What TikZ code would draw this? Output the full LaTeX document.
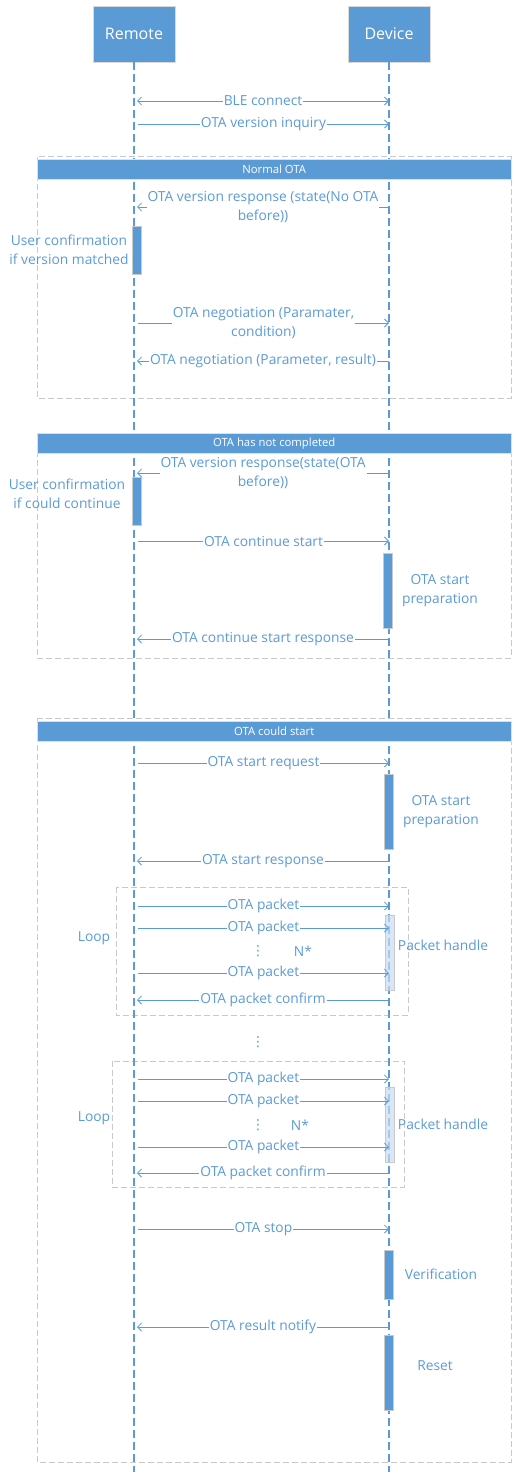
\documentclass[tikz,border=0pt]{standalone}
\usepackage{fontspec}
\setmainfont{Open Sans}
\newfontfamily\dotsfont{DejaVu Sans}
\usetikzlibrary{arrows.meta, positioning, calc}
\definecolor{seqblue}{HTML}{5B9BD5}
\definecolor{framegray}{HTML}{C9C9C9}
\definecolor{barlight}{HTML}{C9DCF1}
\tikzset{actor/.style={rectangle,fill=seqblue,draw=framegray!70,text=white,minimum width=82,minimum height=56,font=\fontsize{16}{18}\selectfont},
    lifeline/.style={draw=seqblue,line width=1.3,dash pattern=on 8 off 4},
    msg/.style={draw=seqblue,line width=0.8,-{Straight Barb[length=4,width=8]}},
    dmsg/.style={msg,{Straight Barb[length=4,width=8]}-{Straight Barb[length=4,width=8]}},
    lbl/.style={fill=white,text=seqblue,inner sep=1,font=\fontsize{13.8}{19}\selectfont,align=center},
    note/.style={text=seqblue,inner sep=0,font=\fontsize{13.8}{19}\selectfont,align=center},
    frame/.style={draw=framegray,line width=1,dash pattern=on 6 off 3},
    header/.style={fill=seqblue,draw=framegray!60,text=white,minimum width=474,minimum height=20,inner sep=0,anchor=north west,font=\fontsize{11.3}{12}\selectfont},
    activebar/.style={fill=seqblue,draw=framegray,minimum width=9,inner sep=0,anchor=north},
    lightbar/.style={fill=barlight,fill opacity=0.7,draw=framegray,minimum width=9,inner sep=0,anchor=north}}

\begin{document}
\begin{tikzpicture}[x=1pt,y=-1pt]
    \useasboundingbox (0,0) rectangle (516,1482);

    % combined fragments
    \draw[frame] (37,157) rectangle (511,398);
    \draw[frame] (37,433) rectangle (511,658);
    \draw[frame] (37,718) rectangle (511,1462);
    \draw[frame] (116,887) rectangle (408,1015);
    \draw[frame] (112,1061) rectangle (404,1187);

    % participants and lifelines
    \node[actor] (remote) at (134,34) {Remote};
    \node[actor] (device) at (389,34) {Device};
    \draw[lifeline] (remote.south) -- (remote |- 0,1472);
    \draw[lifeline] (device.south) -- (device |- 0,1472);

    \node[header] (normal) at (37,159) {Normal OTA};
    \node[header] (notdone) at (37,433) {OTA has not completed};
    \node[header] (canstart) at (37,721) {OTA could start};

    % activations
    \foreach \name/\x/\top/\h in {ab1/137/226/48, ab2/137/477/48, db1/387.5/553/75,
        db2/389/774/75, db3/389/1250/49, db4/389/1335/75}
        \node[activebar, minimum height=\h] (\name) at (\x,\top) {};
    \foreach \name/\top in {lb1/915, lb2/1087}
        \node[lightbar, minimum height=75] (\name) at (389.5,\top) {};

    % messages
    \draw[dmsg] ([xshift=3]remote |- 0,101) -- node[lbl]{BLE connect} (device |- 0,101);
    \foreach \y/\txt in {124/OTA version inquiry, 323/{OTA negotiation (Paramater,\\condition)},
        541/OTA continue start, 763/OTA start request, 906/OTA packet, 928/OTA packet,
        973/OTA packet, 1079/OTA packet, 1101/OTA packet, 1147/OTA packet, 1229/OTA stop}
        \draw[msg] ([xshift=4]remote |- 0,\y) -- node[lbl]{\txt} (device |- 0,\y);
    \foreach \y/\txt in {207/{OTA version response (state(No OTA\\before))},
        361/{OTA negotiation (Parameter, result)}, 473/{OTA version response(state(OTA\\before))},
        639/OTA continue start response, 861/OTA start response, 1000/OTA packet confirm,
        1173/OTA packet confirm, 1327/OTA result notify}
        \draw[msg] (device |- 0,\y) -- node[lbl]{\txt} ([xshift=3]remote |- 0,\y);

    % notes
    \node[note] (confirm1) at (69,250) {User confirmation\\if version matched};
    \node[note] (confirm2) at (67,494) {User confirmation\\if could continue};
    \node[note] (prep1) at (440,591) {OTA start\\preparation};
    \node[note] (prep2) at (441,812) {OTA start\\preparation};
    \node[note] (handle1) at (443,945) {Packet handle};
    \node[note] (handle2) at (443,1124) {Packet handle};
    \node[note] (verify) at (441,1274) {Verification};
    \node[note] (reset) at (435,1366) {Reset};
    \node[note] (loop1) at (94,938) {Loop};
    \node[note] (loop2) at (94,1118) {Loop};
    \node[note] (n1) at (303,951) {N*};
    \node[note] (n2) at (300,1125) {N*};
    \foreach \name/\y in {dots1/951, dots2/1042, dots3/1125}
        \node[note] (\name) at (258,\y) {\dotsfont ⋮};
\end{tikzpicture}
\end{document}
